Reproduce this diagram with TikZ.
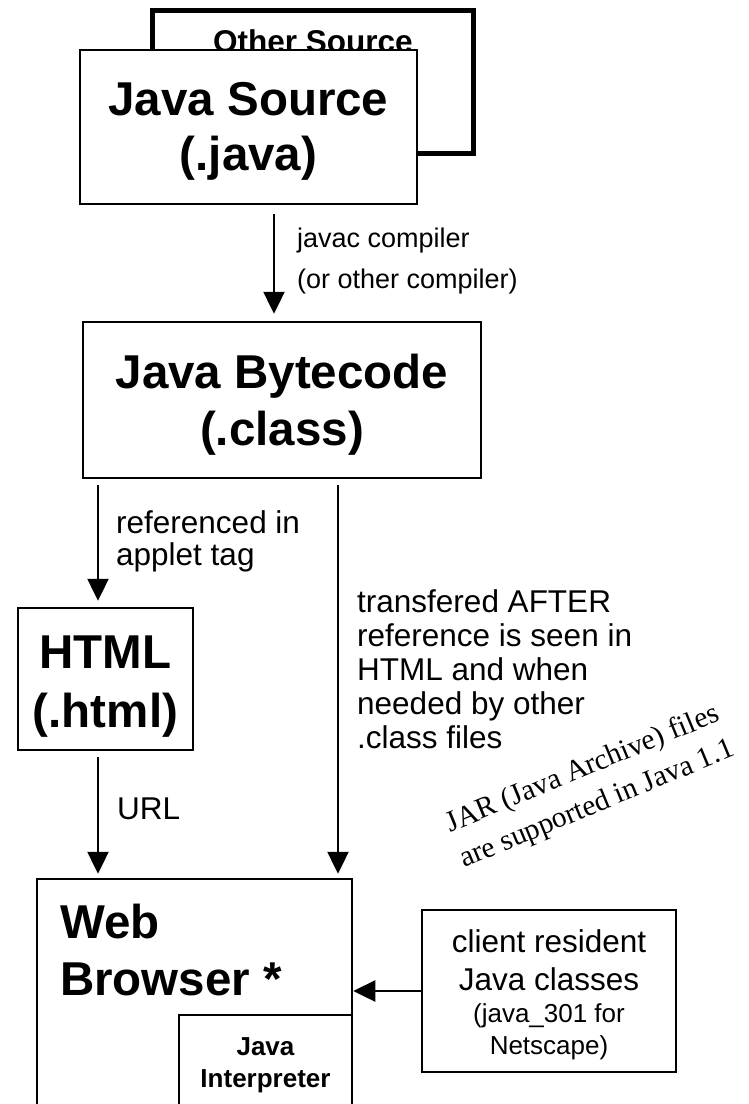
\documentclass[tikz,border=0pt]{standalone}
\usepackage{fontspec}
\setmainfont{Liberation Sans}
\newfontfamily\jarserif{Liberation Serif}
\usetikzlibrary{arrows.meta}
\newcommand\fsz[2]{\fontsize{#1}{#2}\selectfont}
\begin{document}
\begin{tikzpicture}[x=1pt,y=-1pt,
  boxshape/.style={draw, line width=2.5pt, fill=white, rectangle, inner sep=0pt},
  thickbox/.style={draw, line width=5pt, fill=white, rectangle, inner sep=0pt},
  arr/.style={line width=2.4pt, -{Triangle[length=22pt,width=21pt]}},
  txt/.style={inner sep=0pt, anchor=base},
  ltxt/.style={inner sep=0pt, anchor=base west}]
\useasboundingbox (0,0) rectangle (748,1104);
\clip (0,0) rectangle (748,1104);
\fill[white] (0,0) rectangle (748,1104);

% Other Source (behind)
\node[thickbox, minimum width=321pt, minimum height=143pt] (other) at (312.5,81.5) {};
\node[txt] (othertxt) at (313,52) {\fsz{31.5}{36}\bfseries Other Source};

% Java Source
\node[boxshape, minimum width=337pt, minimum height=154pt] (src) at (248.5,127) {};
\node[txt] (srctxt) at (248.5,115) {\fsz{47.5}{55}\bfseries\begin{tabular}[t]{@{}c@{}}Java Source\\(.java)\end{tabular}};

% Java Bytecode
\node[boxshape, minimum width=398pt, minimum height=156pt] (bc) at (282,400) {};
\node[txt] (bctxt) at (282,388) {\fsz{47.5}{57}\bfseries\begin{tabular}[t]{@{}c@{}}Java Bytecode\\(.class)\end{tabular}};

% HTML
\node[boxshape, minimum width=175pt, minimum height=142pt] (html) at (105.5,679) {};
\node[txt] (htmltxt) at (105.5,668) {\fsz{47.5}{59}\bfseries\begin{tabular}[t]{@{}c@{}}HTML\\(.html)\end{tabular}};

% Web Browser
\node[boxshape, minimum width=315pt, minimum height=300pt] (web) at (194.5,1029) {};
\node[ltxt] (webtxt) at (60,938) {\fsz{47.5}{57}\bfseries\begin{tabular}[t]{@{}l@{}}Web\\Browser *\end{tabular}};

% Java Interpreter
\node[boxshape, minimum width=173pt, minimum height=200pt] (interp) at (265.5,1115) {};
\node[txt] (interptxt) at (265.5,1055) {\fsz{26}{32}\bfseries\begin{tabular}[t]{@{}c@{}}Java\\Interpreter\end{tabular}};

% client resident classes
\node[boxshape, minimum width=254pt, minimum height=162pt] (client) at (549,991) {};
\node[txt] (clienttxt) at (549,952) {\fsz{31.5}{32}\begin{tabular}[t]{@{}c@{}}client resident\\[6pt]Java classes\\{\fsz{26}{32}(java\_301 for}\\{\fsz{26}{32}Netscape)}\end{tabular}};

% labels
\node[ltxt] (javaclbl) at (297,247) {\fsz{27}{41}\begin{tabular}[t]{@{}l@{}}javac compiler\\(or other compiler)\end{tabular}};
\node[ltxt] (reflbl) at (116,533) {\fsz{31.5}{32.5}\begin{tabular}[t]{@{}l@{}}referenced in\\applet tag\end{tabular}};
\node[ltxt] (translbl) at (357,612) {\fsz{31.5}{34}\begin{tabular}[t]{@{}l@{}}transfered AFTER\\reference is seen in\\HTML and when\\needed by other\\.class files\end{tabular}};
\node[ltxt] (urllbl) at (117,819) {\fsz{31.5}{34}URL};
\node[inner sep=0pt, rotate=22.5] (jar) at (590,787) {\jarserif\fsz{29.5}{38}\begin{tabular}[t]{@{}c@{}}JAR (Java Archive) files\\are supported in Java 1.1\end{tabular}};

% connector x positions
\coordinate (xa) at (274,0);
\coordinate (xb) at (98,0);
\coordinate (xc) at (338,0);

\draw[arr, shorten <=9pt, shorten >=7pt] (src.south -| xa) -- (bc.north -| xa);
\draw[arr, shorten <=6pt, shorten >=6pt] (bc.south -| xb) -- (html.north -| xb);
\draw[arr, shorten <=6pt, shorten >=4pt] (bc.south -| xc) -- (web.north -| xc);
\draw[arr, shorten <=6pt, shorten >=4pt] (html.south -| xb) -- (web.north -| xb);
\draw[arr] (client.west) -- (client.west -| web.east);
\end{tikzpicture}
\end{document}
